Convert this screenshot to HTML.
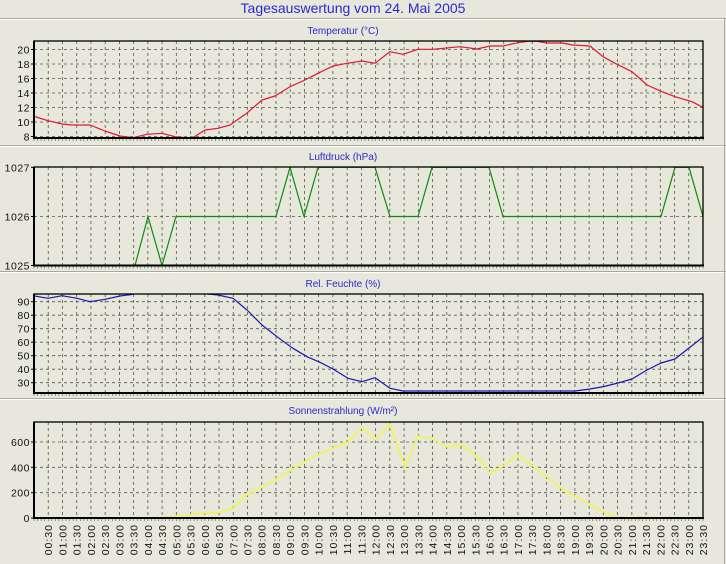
<!DOCTYPE html>
<html><head><meta charset="utf-8"><style>
html,body{margin:0;padding:0;background:#e7e7db;}
svg{display:block;font-family:"Liberation Sans",sans-serif;}
</style></head><body>
<svg id="s" width="726" height="564" xmlns="http://www.w3.org/2000/svg">
<rect width="726" height="564" fill="#e7e7db"/>
<text x="353" y="13" text-anchor="middle" font-size="14" fill="#2a2ad0">Tagesauswertung vom 24. Mai 2005</text>
<g stroke="#a8a89c" stroke-width="1">
<line x1="0" y1="18.5" x2="726" y2="18.5"/><line x1="0" y1="145.5" x2="726" y2="145.5"/>
<line x1="0" y1="271.5" x2="726" y2="271.5"/><line x1="0" y1="398.5" x2="726" y2="398.5"/>
<line x1="724.5" y1="18" x2="724.5" y2="564"/>
</g>
<g stroke="#fff" stroke-width="1">
<line x1="0" y1="19.5" x2="724" y2="19.5"/><line x1="0" y1="146.5" x2="724" y2="146.5"/>
<line x1="0" y1="272.5" x2="724" y2="272.5"/><line x1="0" y1="399.5" x2="724" y2="399.5"/>
</g>
<g font-size="10" fill="#2a2ad0" text-anchor="middle">
<text x="343" y="34">Temperatur (°C)</text>
<text x="343" y="160">Luftdruck (hPa)</text>
<text x="343" y="287">Rel. Feuchte (%)</text>
<text x="343" y="414">Sonnenstrahlung (W/m²)</text>
</g>
<g id="grid"></g>
<defs>
<clipPath id="c1"><rect x="34" y="41" width="669" height="97"/></clipPath>
<clipPath id="c2"><rect x="34" y="166" width="669" height="100"/></clipPath>
<clipPath id="c3"><rect x="34" y="294" width="669" height="99"/></clipPath>
<clipPath id="c4"><rect x="34" y="422" width="669" height="96"/></clipPath>
</defs>
<g fill="none" stroke-width="1.2" stroke-linejoin="round">
<polyline clip-path="url(#c1)" stroke="#e01830" points="33,116 48,120.7 62,124 72,125 90,125 105,131 120,136 133,137.7 147,134.3 162,133.3 175,136.7 192,138.3 205,130 218,128.3 230,125 247,113 262,100 275,96 290,86.7 305,80 318,73.3 333,66 347,63.3 362,61 375,63.3 390,51.7 403,54.3 418,49.3 433,49.3 460,46.7 477,49 490,46 503,46 518,42.7 528,41.3 537,41.3 547,43 562,43 573,45 590,46 603,56.7 617,64.3 632,71.7 647,85 662,91.7 675,96.7 692,101.7 703,107.3"/>
<polyline clip-path="url(#c2)" stroke="#108a10" points="34,265.5 135,265.5 148,216.5 162,265.5 176,216.5 276,216.5 290,167.3 304,216.5 318,167.3 375,167.3 390,216.5 418,216.5 432,167.3 489,167.3 503,216.5 661,216.5 675,167.3 689,167.3 703,216.5"/>
<polyline clip-path="url(#c3)" stroke="#1818b0" points="33,295.7 48,298.3 62,295.7 77,298.3 90,301.7 105,299.3 120,296 133,294.3 148,290 190,290 208,294 218,295 233,298.3 247,310 262,325 277,336.7 292,347.7 307,356.7 320,362.3 333,369 348,378.3 362,381.7 375,377.7 390,388.3 403,391 575,391 590,389 604,386.5 618,383 632,379 647,370 661,363 675,359 689,348 703,337"/>
<polyline clip-path="url(#c4)" stroke="#f4f450" stroke-width="1.6" points="34,518 160,518 167,516.7 180,516 193,514.3 207,512.7 218,512.7 233,508 248,494 263,486.7 280,476.7 297,466.7 313,456.7 330,449.3 347,442.7 362,427.3 375,440 390,424 405,466.7 418,436 432,438.3 447,446.7 462,445 477,456.7 490,473.3 503,466 518,455 533,466 547,476.7 560,487.3 573,495 588,503.3 603,511.7 617,517.3 703,518"/>
</g>
<g id="frames"></g>
</svg>
<script>
var NS="http://www.w3.org/2000/svg",g=document.getElementById("grid"),f=document.getElementById("frames");
function el(p,t,a,txt){var e=document.createElementNS(NS,t);for(var k in a)e.setAttribute(k,a[k]);if(txt!=null)e.textContent=txt;p.appendChild(e);return e;}
var L=34,R=703,st=(R-L)/47;
var panels=[
{t:41,b:138,ticks:[[20,49.5],[18,64],[16,78.5],[14,93],[12,107.5],[10,122],[8,136.5]]},
{t:167,b:265.5,ticks:[[1027,167.3],[1026,216.5],[1025,265.5]],grid:[216.5]},
{t:294,b:393,ticks:[[90,301.7],[80,315.2],[70,328.7],[60,342.2],[50,355.7],[40,369.2],[30,382.7]]},
{t:422,b:518,ticks:[[600,442],[400,467.3],[200,492.7],[0,518]]}
];
panels.forEach(function(p){
 for(var k=1;k<47;k++){var x=L+k*st;el(g,"line",{x1:x,y1:p.t,x2:x,y2:p.b,stroke:"#555","stroke-width":0.8,"stroke-dasharray":"3,3"});}
 var gl=p.grid||p.ticks.map(function(t){return t[1];});
 gl.forEach(function(y){if(y>p.t+1&&y<p.b-1)el(g,"line",{x1:L,y1:y,x2:R,y2:y,stroke:"#555","stroke-width":0.8,"stroke-dasharray":"3,3"});});
 p.ticks.forEach(function(t){el(f,"text",{x:30,y:t[1]+4,"font-size":"10.5","text-anchor":"end",fill:"#111","letter-spacing":"0.5"},t[0]);el(f,"line",{x1:31,y1:t[1],x2:L,y2:t[1],stroke:"#000"});});
 for(var i=0;i<=188;i++){var x=L+i*st/4;el(f,"line",{x1:x,y1:p.b,x2:x,y2:p.b+3,stroke:"#555","stroke-width":0.6});}
 el(f,"rect",{x:L,y:p.t,width:R-L,height:p.b-p.t,fill:"none",stroke:"#000","stroke-width":1.3});
 el(f,"line",{x1:L-1,y1:p.b,x2:R+1,y2:p.b,stroke:"#000","stroke-width":2});
 el(f,"line",{x1:L,y1:p.t,x2:L,y2:p.b,stroke:"#000","stroke-width":2});
});
for(var k=1;k<=47;k++){var x=L+k*st,h=Math.floor(k/2),m=k%2?"30":"00";var s=(h<10?"0":"")+h+":"+m;
 el(f,"text",{transform:"translate("+(x+4)+",524) rotate(-90)","text-anchor":"end","font-size":"10.5",fill:"#111","letter-spacing":"1"},s);}
</script>
</body></html>
